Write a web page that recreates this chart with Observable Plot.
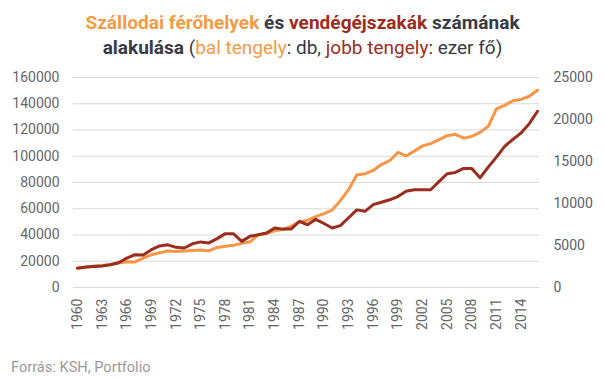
<!DOCTYPE html>
<html>
<head>
<meta charset="utf-8">
<script src="https://cdn.jsdelivr.net/npm/d3@7"></script>
<script src="https://cdn.jsdelivr.net/npm/@observablehq/plot@0.6"></script>
<style>
  html, body { margin: 0; padding: 0; background: #fff; }
  body { width: 605px; height: 378px; font-family: Roboto, "Noto Sans", sans-serif; position: relative; overflow: hidden; }
  #title { height: 64px; box-sizing: border-box; padding-top: 10px; text-align: center; font-size: 19px; line-height: 25px; color: #353b47; white-space: nowrap; }
  #title b { font-weight: 700; }
  #title .l1 { letter-spacing: 0.05px; }
  .or { color: #f59a45; }
  .rd { color: #9e2b1e; }
  #caption { position: absolute; left: 11px; top: 358px; font-size: 14.6px; color: #9a9a9a; }
</style>
</head>
<body>
<div id="title">
  <b class="l1"><span class="or">Szállodai férőhelyek</span> és <span class="rd">vendégéjszakák</span> számának</b><br>
  <b>alakulása</b> (<span class="or">bal tengely</span>: db, <span class="rd">jobb tengely</span>: ezer fő)
</div>
<div id="chart"></div>
<div id="caption">Forrás: KSH, Portfolio</div>
<script>
const years = [1960,1961,1962,1963,1964,1965,1966,1967,1968,1969,1970,1971,1972,1973,1974,1975,1976,1977,1978,1979,1980,1981,1982,1983,1984,1985,1986,1987,1988,1989,1990,1991,1992,1993,1994,1995,1996,1997,1998,1999,2000,2001,2002,2003,2004,2005,2006,2007,2008,2009,2010,2011,2012,2013,2014,2015,2016];
// Szállodai férőhelyek (db) – left axis
const hotelBeds = [14800,15500,16300,16800,17500,18700,19600,19500,22300,25000,26500,27800,27400,27800,28200,28500,27900,30500,31500,32200,33600,34800,40100,41000,43200,44100,46700,50000,51300,54000,56300,59000,66200,74600,85700,86600,89200,93700,96600,102900,100200,103900,107900,109600,112600,115700,116700,113800,115100,118200,122800,136100,138800,142300,143300,145700,150300];
// Vendégéjszakák (ezer fő) – right axis
const guestNights = [2300,2430,2500,2560,2700,2950,3500,3900,3880,4500,4950,5080,4780,4700,5200,5430,5310,5820,6410,6390,5490,6110,6270,6490,7070,6950,6950,7860,7470,8120,7620,7090,7370,8300,9240,9070,9870,10150,10440,10830,11460,11630,11630,11630,12600,13540,13700,14170,14170,13060,14330,15520,16800,17640,18390,19510,20980];
const xTicks = [1960,1963,1966,1969,1972,1975,1978,1981,1984,1987,1990,1993,1996,1999,2002,2005,2008,2011,2014];
const leftTicks = [0,20000,40000,60000,80000,100000,120000,140000,160000];
const rightTicks = [0,5000,10000,15000,20000,25000];

const leftMax = 160000, rightMax = 25000;
const ratio = leftMax / rightMax;

const data = years.map((y, i) => ({year: y, beds: hotelBeds[i], nights: guestNights[i]}));

const chart = Plot.plot({
  width: 605,
  height: 282,
  marginTop: 13,
  marginBottom: 59,
  marginLeft: 73,
  marginRight: 66,
  style: {fontFamily: "Roboto, 'Noto Sans', sans-serif", fontSize: "14px", background: "transparent", overflow: "visible"},
  x: {type: "linear", domain: [1960, 2016], insetLeft: 4, insetRight: 2},
  y: {domain: [0, leftMax]},
  marks: [
    Plot.gridY({ticks: leftTicks, stroke: "#d9d9d9", strokeOpacity: 1, strokeWidth: 1}),
    Plot.axisY({anchor: "left", ticks: leftTicks, tickSize: 0, tickPadding: 14, tickFormat: d3.format("d"), fill: "#666", fontSize: 14, label: null}),
    Plot.axisY({anchor: "right", ticks: rightTicks.map(v => v * ratio), tickSize: 0, tickPadding: 14, tickFormat: d => d3.format("d")(Math.round(d / ratio)), fill: "#5b6170", fontSize: 14, label: null}),
    Plot.axisX({ticks: xTicks, tickSize: 0, tickPadding: 11, tickRotate: -90, tickFormat: d3.format("d"), fill: "#666", fontSize: 14, label: null, style: {letterSpacing: "1.2px"}}),
    Plot.line(data, {x: "year", y: "beds", stroke: "#f79646", strokeWidth: 3, strokeLinejoin: "round"}),
    Plot.line(data, {x: "year", y: d => d.nights * ratio, stroke: "#9b2d1f", strokeWidth: 3, strokeLinejoin: "round"})
  ]
});
document.getElementById("chart").appendChild(chart);
</script>
</body>
</html>
